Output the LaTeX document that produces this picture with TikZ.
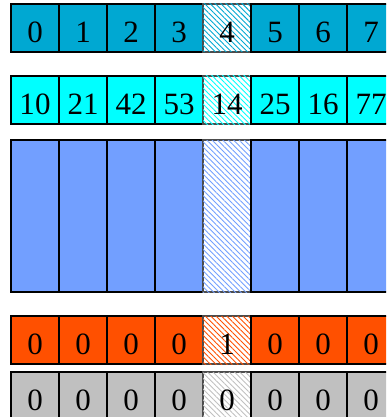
\documentclass[tikz,border=0pt]{standalone}
\usepackage{fontspec}
\setmainfont{Liberation Serif}
\usetikzlibrary{patterns.meta}
\definecolor{rowA}{RGB}{0,168,210}
\definecolor{rowB}{RGB}{0,255,255}
\definecolor{rowC}{RGB}{114,159,255}
\definecolor{rowD}{RGB}{255,80,0}
\definecolor{rowE}{RGB}{192,192,192}
\begin{document}
\begin{tikzpicture}[x=1pt,y=-1pt,
  cell/.style={draw=black, line width=1.1pt, minimum width=48pt, minimum height=48pt,
    inner sep=0pt, outer sep=0pt, anchor=north west,
    font=\fontsize{31}{36}\selectfont, text height=29pt, text depth=0pt},
  tall/.style={minimum height=152pt},
  plain/.style={fill=#1},
  hatch/.style={draw=black!70, postaction={pattern color=#1,
    pattern={Lines[angle=-45,distance=3.8pt,line width=0.9pt]}}}]
\useasboundingbox (0,0) rectangle (386,417);
\clip (0,0) rectangle (386,417);
% row 1
\foreach \t [count=\i from 0] in {0,1,2,3,4,5,6,7} {
  \ifnum\i=4
    \node[cell, hatch=rowA] (a\i) at ({11+48*\i},4) {\t};
  \else
    \node[cell, plain=rowA] (a\i) at ({11+48*\i},4) {\t};
  \fi
}
% row 2
\foreach \t [count=\i from 0] in {10,21,42,53,14,25,16,77} {
  \ifnum\i=4
    \node[cell, hatch=rowB] (b\i) at ({11+48*\i},76) {\t};
  \else
    \node[cell, plain=rowB] (b\i) at ({11+48*\i},76) {\t};
  \fi
}
% row 3
\foreach \i in {0,...,7} {
  \ifnum\i=4
    \node[cell, tall, hatch=rowC] (c\i) at ({11+48*\i},140) {};
  \else
    \node[cell, tall, plain=rowC] (c\i) at ({11+48*\i},140) {};
  \fi
}
% row 4
\foreach \t [count=\i from 0] in {0,0,0,0,1,0,0,0} {
  \ifnum\i=4
    \node[cell, hatch=rowD] (d\i) at ({11+48*\i},316) {\t};
  \else
    \node[cell, plain=rowD] (d\i) at ({11+48*\i},316) {\t};
  \fi
}
% row 5
\foreach \t [count=\i from 0] in {0,0,0,0,0,0,0,0} {
  \ifnum\i=4
    \node[cell, hatch=rowE] (e\i) at ({11+48*\i},372) {\t};
  \else
    \node[cell, plain=rowE] (e\i) at ({11+48*\i},372) {\t};
  \fi
}
\end{tikzpicture}
\end{document}
